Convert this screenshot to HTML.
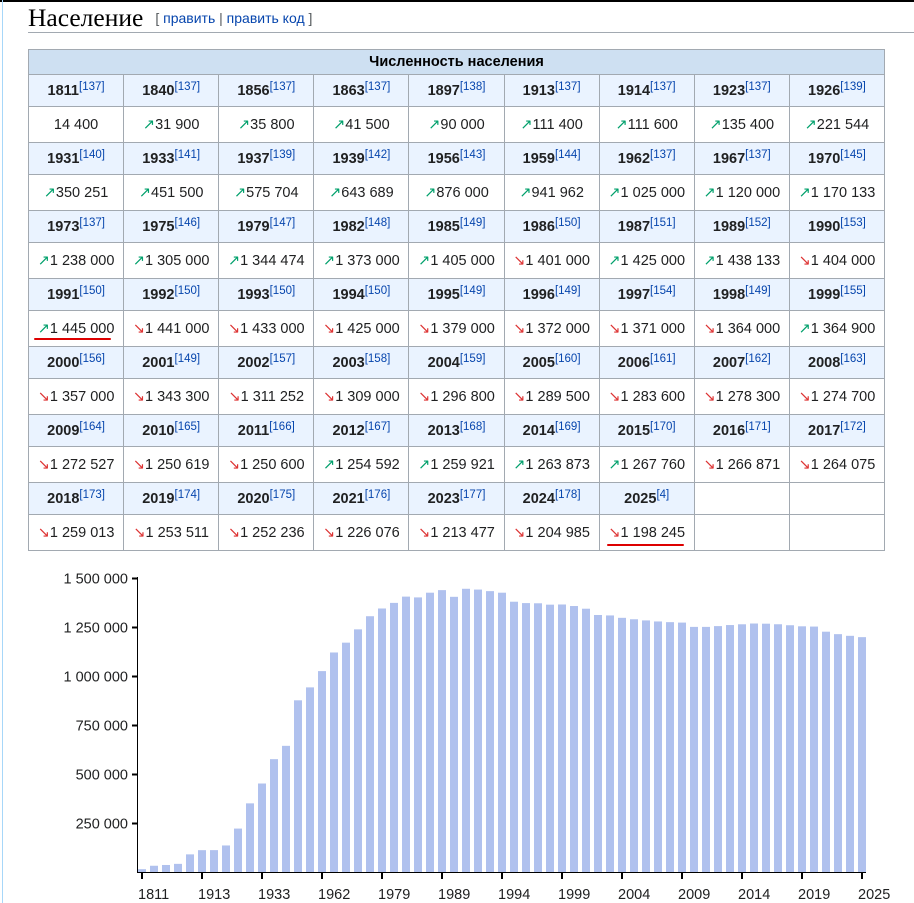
<!DOCTYPE html>
<html><head><meta charset="utf-8"><style>
body{margin:0;background:#fff;font-family:"Liberation Sans",sans-serif;width:914px;height:903px;overflow:hidden;position:relative}
.top{position:absolute;left:0;top:0;width:914px;height:2px;background:#000}
.lb{position:absolute;left:2px;top:0;width:1px;height:903px;background:#a7d7f9}
h2{position:absolute;left:28px;top:3px;margin:0;font:25.5px "Liberation Serif",serif;color:#000;width:886px;border-bottom:1px solid #a2a9b1;height:29px;line-height:29px}
h2 span{font:14px "Liberation Sans",sans-serif;color:#54595d;margin-left:12px;vertical-align:3px}
h2 a{color:#0645ad}
table{position:absolute;left:28px;top:49px;width:857px;border-collapse:collapse;table-layout:fixed;font-size:14.5px;color:#202122}
td,th{border:1px solid #a2a9b1;text-align:center;padding:0}
th.t{background:#cee0f2;height:24px;font-weight:bold;color:#000}
tr.y td{background:#eaf3ff;height:31px;font-weight:bold}
tr.v td{height:35px}
sup{font-weight:normal;color:#0645ad;font-size:11.5px;vertical-align:5px;line-height:0}
.u{color:#00a06b}.d{color:#d33}
.ul{position:absolute;height:2px;background:#d00;border-radius:1px}
</style></head><body>
<div class="top"></div><div class="lb"></div>
<h2>Население<span>[ <a>править</a> | <a>править код</a> ]</span></h2>
<table id="t"><tr><th class="t" colspan="9">Численность населения</th></tr></table>
<div class="ul" style="left:34px;top:338px;width:77px"></div>
<div class="ul" style="left:607px;top:544px;width:77px"></div>
<svg id="c" width="914" height="903" style="position:absolute;left:0;top:0" font-family="Liberation Sans, sans-serif" font-size="14.5" fill="#202122"></svg>
<script>
var yrs=[["1811",137],["1840",137],["1856",137],["1863",137],["1897",138],["1913",137],["1914",137],["1923",137],["1926",139],["1931",140],["1933",141],["1937",139],["1939",142],["1956",143],["1959",144],["1962",137],["1967",137],["1970",145],["1973",137],["1975",146],["1979",147],["1982",148],["1985",149],["1986",150],["1987",151],["1989",152],["1990",153],["1991",150],["1992",150],["1993",150],["1994",150],["1995",149],["1996",149],["1997",154],["1998",149],["1999",155],["2000",156],["2001",149],["2002",157],["2003",158],["2004",159],["2005",160],["2006",161],["2007",162],["2008",163],["2009",164],["2010",165],["2011",166],["2012",167],["2013",168],["2014",169],["2015",170],["2016",171],["2017",172],["2018",173],["2019",174],["2020",175],["2021",176],["2023",177],["2024",178],["2025",4]];
var v=[14400,31900,35800,41500,90000,111400,111600,135400,221544,350251,451500,575704,643689,876000,941962,1025000,1120000,1170133,1238000,1305000,1344474,1373000,1405000,1401000,1425000,1438133,1404000,1445000,1441000,1433000,1425000,1379000,1372000,1371000,1364000,1364900,1357000,1343300,1311252,1309000,1296800,1289500,1283600,1278300,1274700,1272527,1250619,1250600,1254592,1259921,1263873,1267760,1266871,1264075,1259013,1253511,1252236,1226076,1213477,1204985,1198245];
function f(n){return String(n).replace(/\B(?=(\d{3})+(?!\d))/g,"\u00a0");}
var t=document.getElementById("t"),h="";
for(var r=0;r<7;r++){var a="<tr class='y'>",b="<tr class='v'>";
for(var c=0;c<9;c++){var i=r*9+c;if(i<61){a+="<td>"+yrs[i][0]+"<sup>["+yrs[i][1]+"]</sup></td>";
var ar=i==0?"":(v[i]>v[i-1]?"<span class='u'>↗</span>":"<span class='d'>↘</span>");b+="<td>"+ar+f(v[i])+"</td>";}else{a+="<td style='background:#fff'></td>";b+="<td></td>";}}
h+=a+"</tr>"+b+"</tr>";}
t.innerHTML+=h;
var s="",y0=872,k=294/1500000;
for(var i=0;i<61;i++){var hh=v[i]*k;s+="<rect x='"+(138+i*12)+"' y='"+(y0-hh)+"' width='8' height='"+hh+"' fill='#b0c1ee'/>";}
s+="<line x1='137.5' y1='577' x2='137.5' y2='872.5' stroke='#000'/><line x1='137' y1='872.5' x2='866' y2='872.5' stroke='#000'/>";
for(var j=1;j<=6;j++){var yy=Math.round(y0-j*250000*k)+0.5;s+="<line x1='132' x2='137' y1='"+yy+"' y2='"+yy+"' stroke='#000' stroke-width='2'/><text x='128' y='"+(yy+5)+"' text-anchor='end'>"+f(j*250000)+"</text>";}
for(var i=0;i<=60;i+=5){var x=138+i*12+4;s+="<line x1='"+x+"' x2='"+x+"' y1='872' y2='879' stroke='#000' stroke-width='2'/><text x='"+(x-4)+"' y='899'>"+yrs[i][0]+"</text>";}
document.getElementById("c").innerHTML=s;
</script>
</body></html>
